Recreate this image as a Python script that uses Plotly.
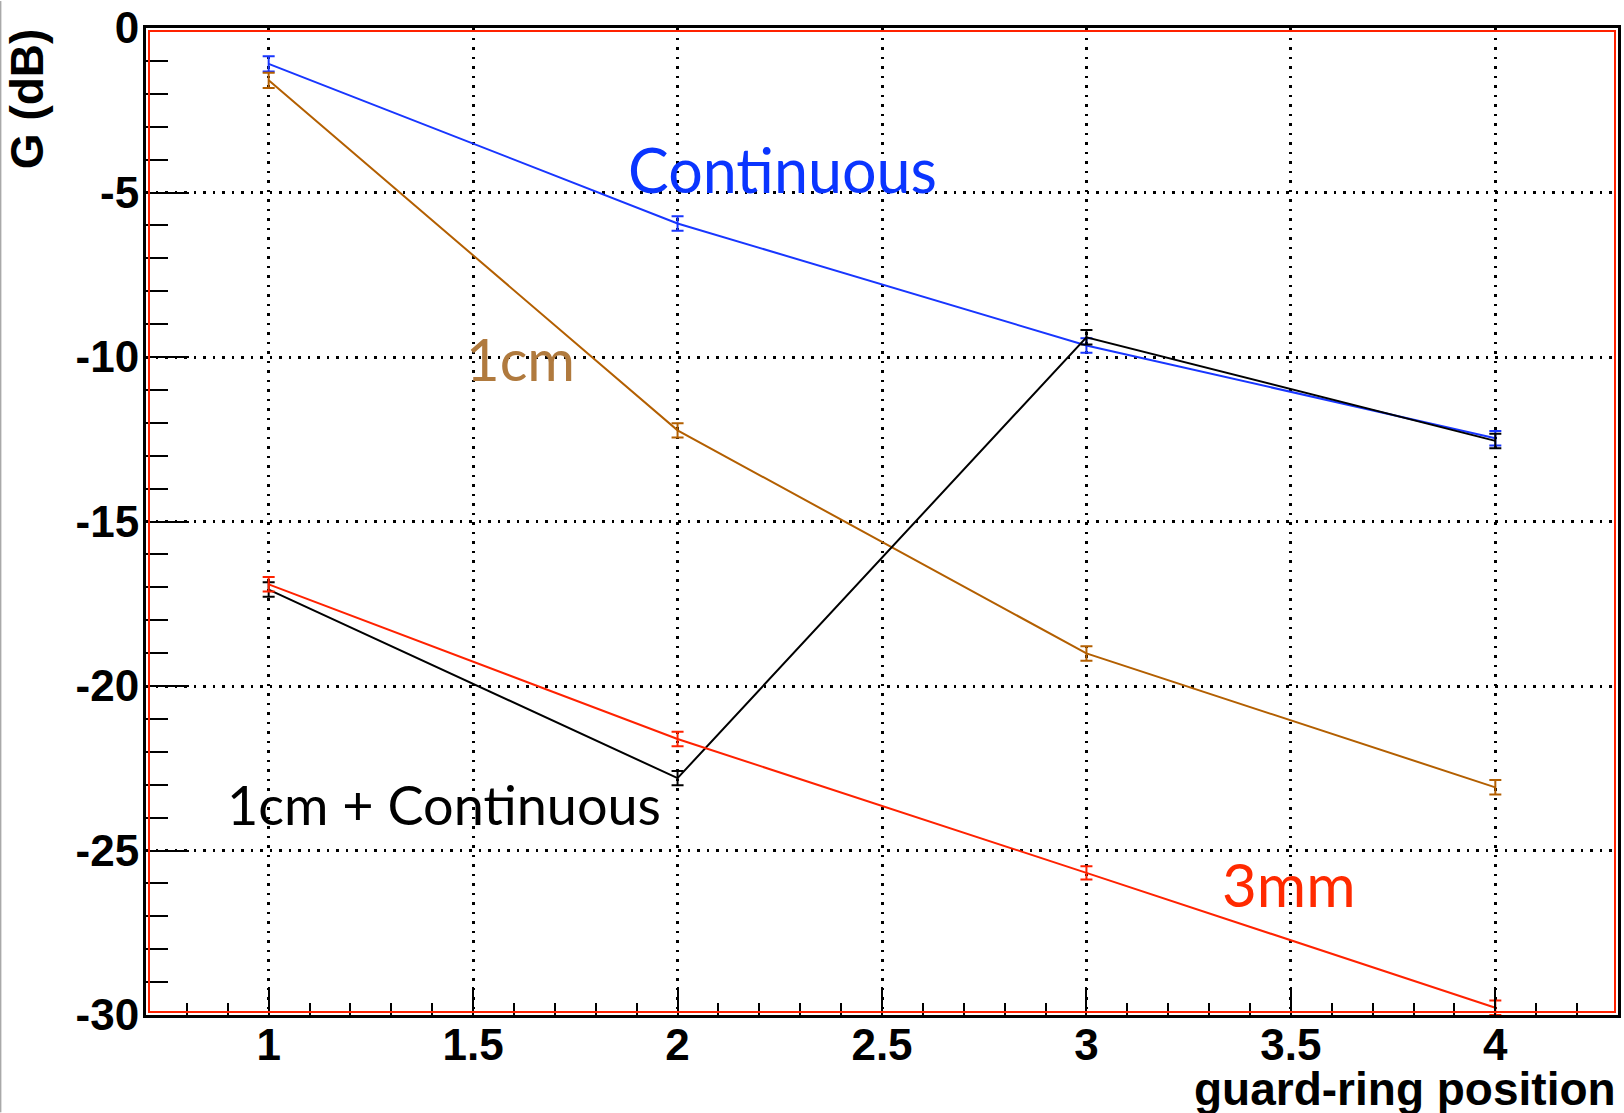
import plotly.graph_objects as go

positions = [1, 2, 3, 4]
g_continuous = [-1.09, -5.94, -9.65, -12.47]
g_1cm = [-1.59, -12.23, -19.01, -23.08]
g_1cm_cont = [-17.07, -22.80, -9.40, -12.55]
g_3mm = [-16.91, -21.61, -25.68, -29.78]
err_continuous = [0.23, 0.22, 0.22, 0.22]
err_1cm = [0.23, 0.22, 0.22, 0.22]
err_1cm_cont = [0.22, 0.22, 0.22, 0.22]
err_3mm = [0.22, 0.22, 0.20, 0.22]

x_tickvals = [1, 1.5, 2, 2.5, 3, 3.5, 4]
x_ticktext = ["1", "1.5", "2", "2.5", "3", "3.5", "4"]
y_tickvals = [0, -5, -10, -15, -20, -25, -30]
y_ticktext = ["0", "-5", "-10", "-15", "-20", "-25", "-30"]

W, H = 1624, 1113
L, R, T, B = 146, 3, 27, 97.5
pw, ph = W - L - R, H - T - B

fig = go.Figure()

def add(y, e, color):
    fig.add_trace(go.Scatter(
        x=positions, y=y, mode="lines",
        line=dict(color=color, width=2),
        error_y=dict(type="data", array=e, color=color, thickness=2, width=6),
        showlegend=False, hoverinfo="skip"))

add(g_continuous, err_continuous, "#1836ff")
add(g_1cm, err_1cm, "#b35f00")
add(g_1cm_cont, err_1cm_cont, "#000000")
add(g_3mm, err_3mm, "#ff2200")

lab_font = "Lato"
anns = [
    dict(text="Continuous", x=1.875, y=-4.31, color="#0a35ff", size=61),
    dict(text="1cm", x=1.478, y=-10.05, color="#b07a3e", size=58),
    dict(text="1cm + Continuous", x=0.893, y=-23.6, color="#000000", size=54),
    dict(text="3mm", x=3.327, y=-26.02, color="#ff2a00", size=60),
]
for a in anns:
    fig.add_annotation(x=a["x"], y=a["y"], xref="x", yref="y", text=a["text"],
                       showarrow=False, xanchor="left", yanchor="middle",
                       font=dict(family=lab_font, size=a["size"], color=a["color"]))

fig.add_annotation(x=1.0, y=(T + ph - 1090) / ph, xref="paper", yref="paper",
                   text="guard-ring position", showarrow=False,
                   xanchor="right", yanchor="middle",
                   font=dict(family="Liberation Sans, Arial", size=46, color="black", weight="bold"))
fig.add_annotation(x=(27 - L) / pw, y=(T + ph - 98) / ph, xref="paper", yref="paper",
                   text="G (dB)", showarrow=False, textangle=-90,
                   xanchor="center", yanchor="middle",
                   font=dict(family="Liberation Sans, Arial", size=46, color="black", weight="bold"))

# red inner frame
dx, dy = 3.0 / pw, 3.0 / ph
fig.add_shape(type="rect", xref="paper", yref="paper", x0=dx, x1=1 - dx, y0=dy, y1=1 - dy,
              line=dict(color="#ff2200", width=2), layer="above")
# faint gray border at left edge of image
fig.add_shape(type="line", xref="paper", yref="paper", x0=(0.5 - L) / pw, x1=(0.5 - L) / pw,
              y0=(T + ph - H) / ph, y1=(T + ph) / ph, line=dict(color="#888888", width=1))

grid = dict(showgrid=True, gridcolor="black", gridwidth=2.5, griddash="2.5px,7px")
tf = dict(family="Liberation Sans, Arial", size=44, color="black", weight="bold")
fig.update_xaxes(range=[0.7, 4.3], tickmode="array", tickvals=x_tickvals, ticktext=x_ticktext,
                 ticks="inside", ticklen=28, tickwidth=2,
                 tickcolor="black", showline=True, linecolor="black", linewidth=3, mirror=True,
                 zeroline=False, tickfont=tf, ticklabelstandoff=-11,
                 minor=dict(dtick=0.1, tick0=0, ticks="inside", ticklen=12, tickwidth=2,
                            tickcolor="black", showgrid=False),
                 **grid)
fig.update_yaxes(range=[-30, 0], tickmode="array", tickvals=y_tickvals, ticktext=y_ticktext,
                 ticks="inside", ticklen=43, tickwidth=2,
                 tickcolor="black", showline=True, linecolor="black", linewidth=3, mirror=True,
                 zeroline=False, tickfont=tf, ticklabelstandoff=-5,
                 minor=dict(dtick=1, tick0=0, ticks="inside", ticklen=22, tickwidth=2,
                            tickcolor="black", showgrid=False),
                 **grid)

fig.update_layout(width=W, height=H, margin=dict(l=L, r=R, t=T, b=B, pad=0),
                  plot_bgcolor="white", paper_bgcolor="white")

fig.write_html("out.html")
